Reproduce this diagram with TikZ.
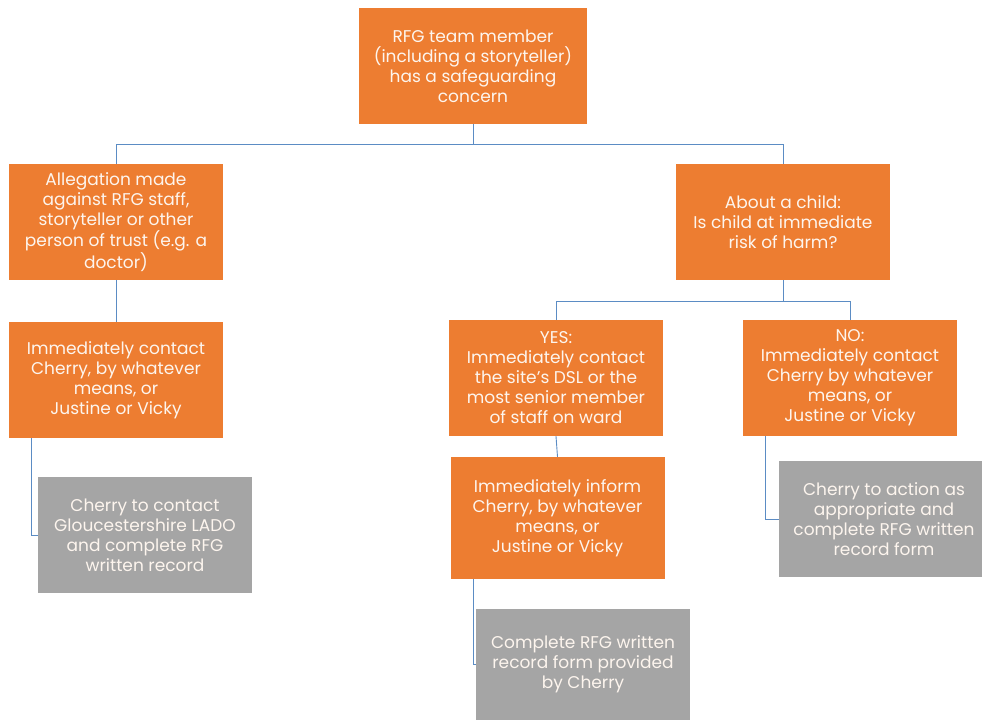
\documentclass[tikz,border=0pt]{standalone}
\usepackage{fontspec}
\setmainfont{Poppins}
\definecolor{boxorange}{HTML}{ED7D31}
\definecolor{boxgrey}{HTML}{A5A5A5}
\definecolor{linkblue}{HTML}{5B8CC4}
\definecolor{boxtext}{HTML}{FDF5EE}
\begin{document}
\begin{tikzpicture}[x=1pt,y=-1pt,
  base/.style={rectangle, inner sep=0pt, text=boxtext, align=center,
    font=\fontsize{17}{20}\selectfont, minimum width=214pt, minimum height=116pt},
  obox/.style={base, fill=boxorange},
  gbox/.style={base, fill=boxgrey},
  link/.style={draw=linkblue, line width=0.9pt}]
\useasboundingbox (0,0) rectangle (982,720);
\node[obox, minimum width=228pt] (top) at (473,66) {RFG team member\\(including a storyteller)\\has a safeguarding\\concern};
\node[obox] (alleg) at (116,222) {Allegation made\\against RFG staff,\\storyteller or other\\person of trust (e.g. a\\doctor)};
\node[obox] (child) at (783,222) {About a child:\\Is child at immediate\\risk of harm?};
\node[obox] (contact) at (116,380) {Immediately contact\\Cherry, by whatever\\means, or\\Justine or Vicky};
\node[gbox] (grey1) at (145,535) {Cherry to contact\\Gloucestershire LADO\\and complete RFG\\written record};
\node[obox] (yes) at (556,378) {YES:\\Immediately contact\\the site's DSL or the\\most senior member\\of staff on ward};
\node[obox, minimum height=122pt] (inform) at (557.5,518) {Immediately inform\\Cherry, by whatever\\means, or\\Justine or Vicky};
\node[gbox, minimum height=111pt] (grey2) at (583,664.5) {Complete RFG written\\record form provided\\by Cherry};
\node[obox] (no) at (850,378) {NO:\\Immediately contact\\Cherry by whatever\\means, or\\Justine or Vicky};
\node[gbox, minimum width=203pt] (grey3) at (880.5,519) {};
\node[text=boxtext, align=center, font=\fontsize{17}{20}\selectfont] (grey3text) at (884,519) {Cherry to action as\\appropriate and\\complete RFG written\\record form};
\draw[link] (top.south) -- ++(0,20) -| (alleg.north);
\draw[link] (top.south) -- ++(0,20) -| (child.north);
\draw[link] (alleg.south) -- (contact.north);
\draw[link] (child.south) -- ++(0,21) -| (yes.north);
\draw[link] (child.south) -- ++(0,21) -| (no.north);
\draw[link] (yes.south) -- (inform.north);
\draw[link] ([xshift=-85pt]contact.south) |- (grey1.west);
\draw[link] ([xshift=-84.5pt]inform.south) |- (grey2.west);
\draw[link] ([xshift=-85pt]no.south) |- (grey3.west);
\end{tikzpicture}
\end{document}
